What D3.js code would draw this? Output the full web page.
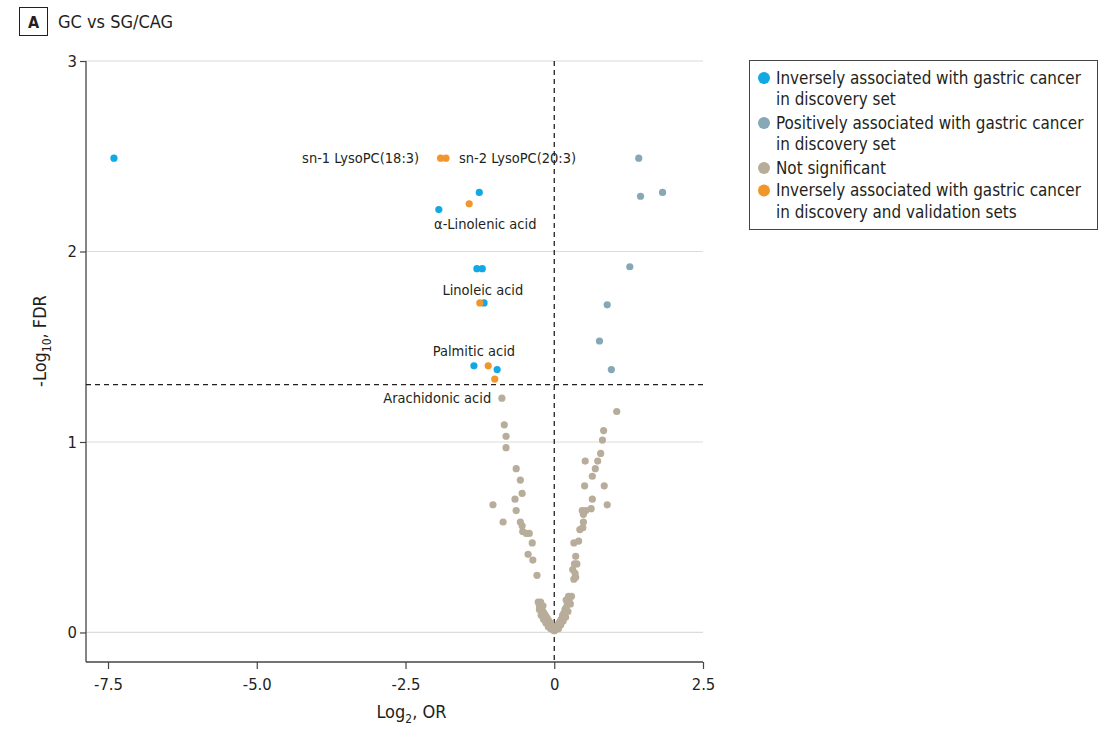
<!DOCTYPE html>
<html>
<head>
<meta charset="utf-8">
<script src="https://cdn.jsdelivr.net/npm/d3@7"></script>
<style>
  body { margin: 0; background: #fff; }
  svg text { font-family: "Liberation Sans Narrow", "DejaVu Sans Condensed", sans-serif; fill: #231f20; }
</style>
</head>
<body>
<script>
// ---- data: [log2 OR, -log10 FDR] ----
var inverseDiscovery = [
  [-7.40, 2.49], [-1.26, 2.31], [-1.94, 2.22], [-1.30, 1.91], [-1.21, 1.91],
  [-1.18, 1.73], [-1.35, 1.40], [-0.96, 1.38]
];
var positiveDiscovery = [
  [1.42, 2.49], [1.45, 2.29], [1.82, 2.31], [1.27, 1.92], [0.89, 1.72],
  [0.76, 1.53], [0.96, 1.38]
];
var notSignificant = [
  // left arm
  [-0.88, 1.23], [-0.84, 1.09], [-0.81, 1.03], [-0.81, 0.97], [-0.64, 0.86],
  [-0.57, 0.80], [-0.54, 0.73], [-0.66, 0.70], [-1.03, 0.67], [-0.64, 0.64],
  [-0.86, 0.58], [-0.57, 0.58], [-0.54, 0.56], [-0.53, 0.53], [-0.47, 0.52],
  [-0.42, 0.52], [-0.37, 0.47], [-0.44, 0.41], [-0.36, 0.38], [-0.29, 0.30],
  [-0.27, 0.16], [-0.25, 0.14], [-0.23, 0.13], [-0.21, 0.12], [-0.19, 0.11],
  [-0.17, 0.10], [-0.15, 0.09], [-0.13, 0.08], [-0.11, 0.07], [-0.09, 0.06],
  [-0.07, 0.05], [-0.05, 0.04], [-0.03, 0.03], [-0.02, 0.02], [-0.01, 0.01],
  [-0.25, 0.12], [-0.22, 0.09], [-0.18, 0.07], [-0.14, 0.05], [-0.10, 0.03],
  [-0.06, 0.02], [-0.23, 0.16], [-0.19, 0.14],
  // right arm
  [1.05, 1.16], [0.83, 1.06], [0.81, 1.01], [0.78, 0.94], [0.73, 0.90],
  [0.52, 0.90], [0.69, 0.86], [0.64, 0.82], [0.51, 0.77], [0.84, 0.77],
  [0.64, 0.70], [0.89, 0.67], [0.47, 0.64], [0.53, 0.64], [0.62, 0.65],
  [0.49, 0.62], [0.49, 0.58], [0.43, 0.54], [0.48, 0.55], [0.33, 0.47],
  [0.41, 0.48], [0.36, 0.40], [0.34, 0.36], [0.38, 0.36], [0.31, 0.33],
  [0.35, 0.31], [0.33, 0.28], [0.36, 0.29], [0.29, 0.19], [0.25, 0.17],
  [0.22, 0.15], [0.20, 0.13], [0.18, 0.12], [0.16, 0.10], [0.14, 0.09],
  [0.12, 0.07], [0.10, 0.06], [0.08, 0.05], [0.06, 0.04], [0.04, 0.03],
  [0.02, 0.02], [0.01, 0.01],
  [0.27, 0.15], [0.23, 0.11], [0.19, 0.08], [0.15, 0.06], [0.11, 0.04],
  [0.07, 0.02], [0.24, 0.19], [0.20, 0.17]
];
var inverseValidated = [
  [-1.91, 2.49], [-1.82, 2.49], [-1.43, 2.25], [-1.25, 1.73], [-1.11, 1.40],
  [-1.00, 1.33]
];

// annotations: text, x, y (data units), anchor
var annotations = [
  ["sn-1 LysoPC(18:3)", -2.27, 2.49, "end"],
  ["sn-2 LysoPC(20:3)", -1.60, 2.49, "start"],
  ["\u03b1-Linolenic acid", -1.16, 2.145, "middle"],
  ["Linoleic acid", -1.20, 1.80, "middle"],
  ["Palmitic acid", -1.35, 1.48, "middle"],
  ["Arachidonic acid", -1.06, 1.23, "end"]
];

var xTicks = [-7.5, -5.0, -2.5, 0, 2.5];
var yTicks = [0, 1, 2, 3];
var fdrCut = -Math.log10(0.05);

var legendLabels = [
  ["Inversely associated with gastric cancer", "in discovery set"],
  ["Positively associated with gastric cancer", "in discovery set"],
  ["Not significant"],
  ["Inversely associated with gastric cancer", "in discovery and validation sets"]
];
var colors = ["#12a8e3", "#86a8b6", "#b8ad9a", "#f0962b"];

function init() {
  var w = 1108, h = 735;
  var left = 86, right = 703, top = 61, bottom = 662;

  var svg = d3.select("body").append("svg")
    .attr("width", w)
    .attr("height", h);

  // panel letter + title
  svg.append("rect")
    .attr("x", 19.5).attr("y", 7.5)
    .attr("width", 28).attr("height", 28)
    .attr("fill", "none").attr("stroke", "#231f20").attr("stroke-width", 1);
  svg.append("text")
    .attr("x", 33.5).attr("y", 28)
    .attr("text-anchor", "middle")
    .style("font-weight", "bold").style("font-size", "16px")
    .text("A");
  svg.append("text")
    .attr("x", 58).attr("y", 28)
    .style("font-size", "18px")
    .text("GC vs SG/CAG");

  var xScale = d3.scaleLinear().domain([-7.87, 2.5]).range([left, right]);
  var yScale = d3.scaleLinear().domain([-0.155, 3]).range([bottom, top]);

  // gridlines
  svg.append("g").selectAll("line")
    .data(yTicks)
    .enter().append("line")
    .attr("x1", left).attr("x2", right)
    .attr("y1", function(d) { return yScale(d); })
    .attr("y2", function(d) { return yScale(d); })
    .attr("stroke", "#dcdcdc").attr("stroke-width", 1.2);

  // axes
  var xAxis = d3.axisBottom(xScale)
    .tickValues(xTicks)
    .tickSize(7)
    .tickSizeOuter(0)
    .tickFormat(function(d) { return d === 0 ? "0" : d.toFixed(1); });
  var gx = svg.append("g")
    .attr("transform", "translate(0," + bottom + ")")
    .call(xAxis);
  gx.selectAll("text").style("font-size", "16.5px").attr("dy", "1.1em");

  var yAxis = d3.axisLeft(yScale)
    .tickValues(yTicks)
    .tickSize(6)
    .tickSizeOuter(0)
    .tickFormat(function(d) { return String(d); });
  var gy = svg.append("g")
    .attr("transform", "translate(" + left + ",0)")
    .call(yAxis);
  gy.selectAll("text").style("font-size", "16.5px").attr("x", -9);

  [gx, gy].forEach(function(g) {
    g.select(".domain").attr("stroke", "#444").attr("stroke-width", 1.3);
    g.selectAll(".tick line").attr("stroke", "#444").attr("stroke-width", 1.2);
  });
  // extend the y axis line down to the x axis
  gy.select(".domain").attr("d", "M0," + top + "V" + bottom);
  gx.select(".domain").attr("d", "M" + left + ",0H" + right);

  // axis titles
  var xt = svg.append("text")
    .attr("x", xScale(-2.4)).attr("y", 718)
    .attr("text-anchor", "middle")
    .style("font-size", "18px");
  xt.append("tspan").text("Log");
  xt.append("tspan").attr("dy", 5).style("font-size", "12px").text("2");
  xt.append("tspan").attr("dy", -5).text(", OR");

  var yt = svg.append("text")
    .attr("transform", "translate(46," + yScale(1.53) + ") rotate(-90)")
    .attr("text-anchor", "middle")
    .style("font-size", "18px");
  yt.append("tspan").text("-Log");
  yt.append("tspan").attr("dy", 5).style("font-size", "12px").text("10");
  yt.append("tspan").attr("dy", -5).text(", FDR");

  // reference dashed lines
  svg.append("line")
    .attr("x1", xScale(0)).attr("x2", xScale(0))
    .attr("y1", top).attr("y2", bottom)
    .attr("stroke", "#231f20").attr("stroke-width", 1.3)
    .attr("stroke-dasharray", "5,4");
  svg.append("line")
    .attr("x1", left).attr("x2", right)
    .attr("y1", yScale(fdrCut)).attr("y2", yScale(fdrCut))
    .attr("stroke", "#231f20").attr("stroke-width", 1.3)
    .attr("stroke-dasharray", "5,4");

  // points
  var groups = [notSignificant, positiveDiscovery, inverseDiscovery, inverseValidated];
  var groupColors = [colors[2], colors[1], colors[0], colors[3]];
  groups.forEach(function(arr, i) {
    svg.append("g").selectAll("circle")
      .data(arr)
      .enter().append("circle")
      .attr("cx", function(d) { return xScale(d[0]); })
      .attr("cy", function(d) { return yScale(d[1]); })
      .attr("r", 3.6)
      .attr("fill", groupColors[i]);
  });

  // labels
  svg.append("g").selectAll("text")
    .data(annotations)
    .enter().append("text")
    .attr("x", function(d) { return xScale(d[1]); })
    .attr("y", function(d) { return yScale(d[2]); })
    .attr("dy", "0.35em")
    .attr("text-anchor", function(d) { return d[3]; })
    .style("font-size", "14.5px")
    .text(function(d) { return d[0]; });

  // legend
  var lg = svg.append("g");
  lg.append("rect")
    .attr("x", 749.5).attr("y", 60.5)
    .attr("width", 348).attr("height", 169)
    .attr("fill", "#fff").attr("stroke", "#444").attr("stroke-width", 1);
  var rowY = 78;
  legendLabels.forEach(function(lines, i) {
    lg.append("circle")
      .attr("cx", 764).attr("cy", rowY)
      .attr("r", 6)
      .attr("fill", colors[i]);
    lines.forEach(function(line, j) {
      lg.append("text")
        .attr("x", 776).attr("y", rowY + j * 21.5)
        .attr("dy", "0.35em")
        .style("font-size", "16.9px")
        .text(line);
    });
    rowY += lines.length * 22.5;
  });
}

window.onload = init;
</script>
</body>
</html>
